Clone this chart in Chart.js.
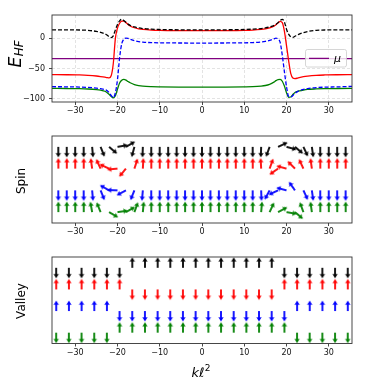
<!DOCTYPE html>
<html><head><meta charset="utf-8">
<script src="https://cdn.jsdelivr.net/npm/chart.js"></script>
<style>
html,body{margin:0;padding:0;background:#fff;}
#wrap{position:relative;width:374px;height:382px;overflow:hidden;}
canvas{position:absolute;left:0;}
</style></head><body>
<div id="wrap">
<canvas id="c1" width="374" height="120" style="top:0px"></canvas>
<canvas id="c2" width="374" height="118" style="top:122px"></canvas>
<canvas id="c3" width="374" height="140" style="top:242px"></canvas>
</div>
<script>
// ---------- data ----------
const xTicks = [-30, -20, -10, 0, 10, 20, 30];
const yTicksE = [-100, -50, 0];

const xE = [-35.5,-32,-29,-27,-25,-24,-23,-22.5,-22,-21.5,-21,-20.5,-20,-19.5,-19,-18.5,-18,-17.5,-17,-16,-15,-14,-12,-10,-5,0,5,10,12,14,15,16,17,17.5,18,18.5,19,19.5,20,20.5,21,21.5,22,22.5,23,24,25,27,29,32,35.5];
const eBlack = [14,14,13.8,13.2,11.5,10,7.5,5.5,3,1.2,4,14,23,29,31.5,29.5,26.5,23.5,21.5,18.8,17.2,16.2,15.2,14.6,14.1,14,14.1,14.6,15.2,16.2,17.2,18.8,21,23,26,29.5,31.5,27,15,7,2.5,1.5,3.5,5,7,9.5,11.3,13.2,13.8,14,14];
const eRed = [-60,-60.2,-60.6,-61.2,-62.3,-63.2,-64.3,-65,-65.5,-62,-42,0,17,25,28.3,28.5,26,23,20.5,17.5,15.8,14.8,13.7,13.2,12.8,12.7,12.8,13.2,13.7,14.8,15.8,17.5,20,22.5,25.5,28,26,12,-12,-37,-58,-65.5,-66.5,-66,-65,-63.5,-62.5,-61.2,-60.6,-60.2,-60];
const eBlue = [-80,-80.2,-80.6,-81.2,-82.3,-83.3,-84.8,-86.5,-89.5,-94.5,-98,-90,-68,-32,-9,-1.5,0.5,0,-1.5,-4,-5.5,-6.3,-7.1,-7.4,-7.7,-7.8,-7.7,-7.4,-7,-6,-5,-3.5,-1,0.3,-1,-6.7,-28,-55,-80,-96,-97,-94.5,-91,-88.5,-86.5,-84.5,-83,-81.5,-80.8,-80.3,-79.5];
const eGreen = [-82.8,-83,-83.3,-83.8,-84.8,-85.8,-87.5,-89.5,-92.5,-96,-98.4,-95,-84,-74,-69.5,-68,-69,-71.5,-73.5,-76.5,-78.2,-79.2,-80,-80.3,-80.6,-80.7,-80.6,-80.3,-80,-79,-78,-76,-72.5,-70,-68.3,-68,-71,-79,-90,-97.5,-97,-93,-89.5,-88,-87,-85.5,-84.5,-83.7,-83.2,-83,-82.8];
const mu = -33.4;

// spin directions (degrees clockwise from "up")
const spinX = [-34,-32,-30,-28,-26,-24,-22,-20,-18,-16,-14,-12,-10,-8,-6,-4,-2,0,2,4,6,8,10,12,14,16,18,20,22,24,26,28,30,32,34];
const spinBlack = [180,180,180,180,175,158,130,80,60,195,182,180,180,180,180,180,180,180,180,180,180,180,180,180,182,200,65,105,130,155,172,180,180,180,180];
const spinRed   = [0,0,0,0,352,335,295,265,220,18,3,0,0,0,0,0,0,0,0,0,0,0,0,0,357,20,235,285,315,335,352,0,0,0,0];
const spinBlue  = [180,180,180,180,175,158,300,272,242,202,185,180,180,180,180,180,180,180,180,180,180,180,180,180,178,208,245,285,325,155,172,180,180,180,180];
const spinGreen = [0,0,0,0,350,338,120,82,60,20,5,0,0,0,0,0,0,0,0,0,0,0,0,0,5,25,62,100,130,340,352,0,0,0,0];

// valley polarisation (+1 up, -1 down)
const valleyX = [-34.5,-31.5,-28.5,-25.5,-22.5,-19.5,-16.5,-13.5,-10.5,-7.5,-4.5,-1.5,1.5,4.5,7.5,10.5,13.5,16.5,19.5,22.5,25.5,28.5,31.5,34.5];
const valleyBlack = [-1,-1,-1,-1,-1,-1,1,1,1,1,1,1,1,1,1,1,1,1,-1,-1,-1,-1,-1,-1];
const valleyRed   = [1,1,1,1,1,1,-1,-1,-1,-1,-1,-1,-1,-1,-1,-1,-1,-1,1,1,1,1,1,1];
const valleyBlue  = [1,1,1,1,1,-1,-1,-1,-1,-1,-1,-1,-1,-1,-1,-1,-1,-1,-1,1,1,1,1,1];
const valleyGreen = [-1,-1,-1,-1,-1,1,1,1,1,1,1,1,1,1,1,1,1,1,1,-1,-1,-1,-1,-1];

const levelBlack = 3, levelRed = 2, levelBlue = 1, levelGreen = 0;

// ---------- helpers ----------
const COL = {black:'#000000', red:'#ff0000', blue:'#0000ff', green:'#008000', purple:'#800080'};
const FONT = '"DejaVu Sans", sans-serif';
const fmt = v => v < 0 ? '\u2212' + Math.abs(v) : String(v);

function arrowImage(color) {
  const c = document.createElement('canvas');
  c.width = 26; c.height = 26;
  const g = c.getContext('2d');
  g.fillStyle = color;
  const cx = 13, tail = 13, tip = 2.5;
  g.beginPath();
  g.moveTo(cx - 0.9, tail);
  g.lineTo(cx - 0.9, tip + 4.0);
  g.lineTo(cx - 2.7, tip + 4.6);
  g.lineTo(cx, tip);
  g.lineTo(cx + 2.7, tip + 4.6);
  g.lineTo(cx + 0.9, tip + 4.0);
  g.lineTo(cx + 0.9, tail);
  g.closePath();
  g.fill();
  return c;
}

function xScale(h, gridOn) {
  return {
    type: 'linear', min: -35.5, max: 35.5,
    afterBuildTicks: s => { s.ticks = xTicks.map(v => ({value: v})); },
    afterFit: s => { s.height = h; },
    ticks: {autoSkip: false, maxRotation: 0, padding: 1.5, color: '#111', font: {family: FONT, size: 8}, callback: v => fmt(v)},
    grid: {drawOnChartArea: gridOn, color: '#dcdcdc', lineWidth: 0.8, tickLength: 3, tickColor: '#333', tickWidth: 0.9},
    border: {display: false, dash: [3, 2]}
  };
}
function yLevelScale() {
  return {
    type: 'linear', min: -0.5, max: 3.5,
    afterFit: s => { s.width = 52; },
    ticks: {display: false}, grid: {display: false}, border: {display: false}
  };
}

const framePlugin = {
  id: 'frame',
  afterDatasetsDraw(chart) {
    const a = chart.chartArea, ctx = chart.ctx;
    ctx.save();
    ctx.strokeStyle = '#333';
    ctx.lineWidth = 0.9;
    ctx.strokeRect(a.left, a.top, a.right - a.left, a.bottom - a.top);
    ctx.restore();
  }
};

function rotLabel(ctx, text, x, y, size) {
  ctx.save();
  ctx.translate(x, y);
  ctx.rotate(-Math.PI / 2);
  ctx.font = size + 'px ' + FONT;
  ctx.fillStyle = '#000';
  ctx.textAlign = 'center';
  ctx.textBaseline = 'alphabetic';
  ctx.fillText(text, 0, 0);
  ctx.restore();
}

const common = {
  responsive: false, animation: false, devicePixelRatio: 1, events: [],
  plugins: {legend: {display: false}, tooltip: {enabled: false}}
};

// ---------- panel 1: energies ----------
const lineDs = (label, arr, color, dash, lw) => ({
  type: 'line', label,
  data: xE.map((x, i) => ({x, y: arr[i]})),
  borderColor: color, borderWidth: lw, borderDash: dash,
  pointRadius: 0, fill: false, cubicInterpolationMode: 'monotone'
});

new Chart(document.getElementById('c1'), {
  type: 'line',
  data: {datasets: [
    lineDs('black', eBlack, COL.black, [4, 2], 1.3),
    lineDs('blue', eBlue, COL.blue, [4, 2], 1.3),
    lineDs('red', eRed, COL.red, [], 1.3),
    lineDs('green', eGreen, COL.green, [], 1.3),
    {type: 'line', label: '\u03bc', data: [{x: -35.5, y: mu}, {x: 35.5, y: mu}],
     borderColor: COL.purple, borderWidth: 1.3, pointRadius: 0, fill: false}
  ]},
  options: Object.assign({}, common, {
    layout: {padding: {left: 0, right: 22, top: 15, bottom: 0}},
    scales: {
      x: xScale(18, true),
      y: {
        type: 'linear', min: -105.3, max: 38.6,
        afterBuildTicks: s => { s.ticks = yTicksE.map(v => ({value: v})); },
        afterFit: s => { s.width = 52; },
        ticks: {padding: 4, color: '#111', font: {family: FONT, size: 8}, callback: v => fmt(v)},
        grid: {color: '#dcdcdc', lineWidth: 0.8, tickLength: 3, tickColor: '#333', tickWidth: 0.9},
        border: {display: false, dash: [3, 2]}
      }
    }
  }),
  plugins: [framePlugin, {
    id: 'titles1',
    afterDraw(chart) {
      const ctx = chart.ctx;
      // legend box
      ctx.save();
      ctx.beginPath();
      if (ctx.roundRect) ctx.roundRect(305.5, 49.5, 41, 17.5, 2); else ctx.rect(305.5, 49.5, 41, 17.5);
      ctx.fillStyle = 'rgba(255,255,255,0.8)';
      ctx.fill();
      ctx.strokeStyle = '#cccccc';
      ctx.lineWidth = 0.8;
      ctx.stroke();
      ctx.beginPath();
      ctx.moveTo(309, 58.4); ctx.lineTo(329, 58.4);
      ctx.strokeStyle = COL.purple; ctx.lineWidth = 1.3; ctx.stroke();
      ctx.fillStyle = '#000';
      ctx.font = 'italic 11px ' + FONT;
      ctx.textBaseline = 'middle';
      ctx.textAlign = 'left';
      ctx.fillText(chart.data.datasets[4].label, 334, 59);
      ctx.restore();
      // E_HF label
      ctx.save();
      ctx.translate(20.5, 54);
      ctx.rotate(-Math.PI / 2);
      const fE = 'italic 17px ' + FONT, fS = 'italic 12px ' + FONT;
      ctx.font = fE; const wE = ctx.measureText('E').width;
      ctx.font = fS; const wS = ctx.measureText('HF').width;
      const x0 = -(wE + wS + 0.5) / 2;
      ctx.fillStyle = '#000';
      ctx.textBaseline = 'alphabetic'; ctx.textAlign = 'left';
      ctx.font = fE; ctx.fillText('E', x0, 0);
      ctx.font = fS; ctx.fillText('HF', x0 + wE + 0.5, 2.5);
      ctx.restore();
    }
  }]
});

// ---------- panel 2: spin ----------
const spinDs = (arr, lvl, color) => ({
  type: 'scatter',
  data: spinX.map(x => ({x, y: lvl})),
  pointStyle: arrowImage(color), pointRotation: arr, pointRadius: 5, showLine: false
});
new Chart(document.getElementById('c2'), {
  type: 'scatter',
  data: {datasets: [
    spinDs(spinBlack, levelBlack, COL.black),
    spinDs(spinRed, levelRed, COL.red),
    spinDs(spinBlue, levelBlue, COL.blue),
    spinDs(spinGreen, levelGreen, COL.green)
  ]},
  options: Object.assign({}, common, {
    layout: {padding: {left: 0, right: 22, top: 14, bottom: 0}},
    scales: {x: xScale(17, false), y: yLevelScale()}
  }),
  plugins: [framePlugin, {
    id: 'titles2',
    afterDraw(chart) { rotLabel(chart.ctx, 'Spin', 24.5, 181 - 122, 12); }
  }]
});

// ---------- panel 3: valley ----------
const valleyDs = (arr, lvl, color) => ({
  type: 'scatter',
  data: valleyX.map(x => ({x, y: lvl})),
  pointStyle: arrowImage(color), pointRotation: arr.map(v => v > 0 ? 0 : 180), pointRadius: 5, showLine: false
});
new Chart(document.getElementById('c3'), {
  type: 'scatter',
  data: {datasets: [
    valleyDs(valleyBlack, levelBlack, COL.black),
    valleyDs(valleyRed, levelRed, COL.red),
    valleyDs(valleyBlue, levelBlue, COL.blue),
    valleyDs(valleyGreen, levelGreen, COL.green)
  ]},
  options: Object.assign({}, common, {
    layout: {padding: {left: 0, right: 22, top: 15, bottom: 0}},
    scales: {x: xScale(38.5, false), y: yLevelScale()}
  }),
  plugins: [framePlugin, {
    id: 'titles3',
    afterDraw(chart) {
      const ctx = chart.ctx;
      rotLabel(ctx, 'Valley', 24.5, 301 - 242, 12);
      // x label k l^2
      ctx.save();
      const fM = 'italic 13px ' + FONT, fP = '9px ' + FONT;
      ctx.font = fM; const w1 = ctx.measureText('k\u2113').width;
      ctx.font = fP; const w2 = ctx.measureText('2').width;
      const x0 = 201 - (w1 + w2 + 0.5) / 2, yb = 376.5 - 242;
      ctx.fillStyle = '#000'; ctx.textAlign = 'left'; ctx.textBaseline = 'alphabetic';
      ctx.font = fM; ctx.fillText('k\u2113', x0, yb);
      ctx.font = fP; ctx.fillText('2', x0 + w1 + 0.5, yb - 5.5);
      ctx.restore();
    }
  }]
});
</script>
</body></html>
